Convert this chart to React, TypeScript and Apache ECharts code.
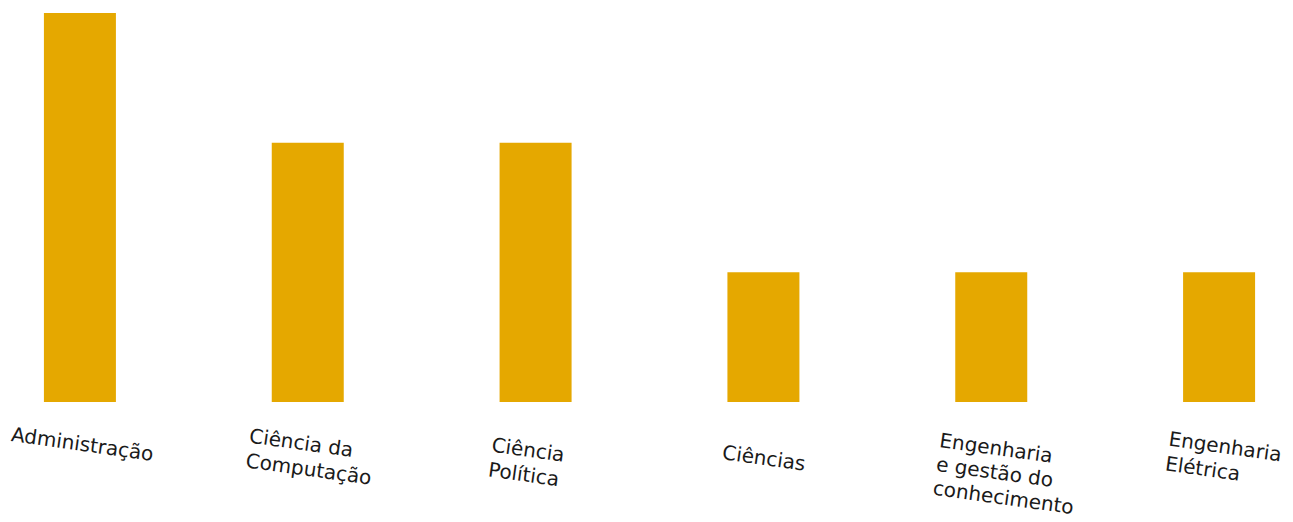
import React, { useEffect, useRef } from "react";
import * as echarts from "echarts";

const categories = [
  "Administração",
  "Ciência da\nComputação",
  "Ciência\nPolítica",
  "Ciências",
  "Engenharia\ne gestão do\nconhecimento",
  "Engenharia\nElétrica",
];
const values = [3, 2, 2, 1, 1, 1];

// per-label nudge of the label block (in the label's rotated frame): [dx, dy] px
const labelNudge: [number, number][] = [
  [5, 5],
  [7, 5],
  [-4, 12],
  [5, 19],
  [22, 9],
  [9, 7],
];
const labelLineHeight = [25, 25, 25, 25, 24, 25];

const FONT = "DejaVu Sans";
const FS = 20;

export default function App() {
  const ref = useRef<HTMLDivElement>(null);
  useEffect(() => {
    if (!ref.current) return;
    const chart = echarts.init(ref.current, null, { renderer: "svg" });
    const rich: Record<string, any> = {};
    labelNudge.forEach(([dx, dy], i) => {
      const base = { align: "left", fontFamily: FONT, fontSize: FS, lineHeight: labelLineHeight[i], color: "#1a1a1a" };
      const pl = dx > 0 ? 2 * dx : 0;
      const pr = dx < 0 ? -2 * dx : 0;
      rich[`t${i}`] = { ...base, padding: [0, pr, 0, pl] };
      rich[`s${i}`] = { align: "left", fontFamily: FONT, fontSize: 1, lineHeight: Math.max(dy, 1), color: "rgba(0,0,0,0)" };
    });
    chart.setOption({
      animation: false,
      grid: { left: 0, right: 0, top: 13, bottom: 120, containLabel: false, outerBoundsMode: "none" },
      xAxis: {
        type: "category",
        data: categories,
        axisLine: { show: false },
        axisTick: { show: false },
        axisLabel: {
          interval: 0,
          rotate: -8,
          align: "center",
          verticalAlign: "top",
          margin: 24,
          fontFamily: FONT,
          fontSize: FS,
          lineHeight: 25,
          color: "#1a1a1a",
          formatter: (v: string, idx: number) =>
            [`{s${idx}| }`]
              .concat(v.split("\n").map((l) => `{t${idx}|${l}}`))
              .join("\n"),
          rich,
        },
      },
      yAxis: { type: "value", min: 0, max: 3, show: false, splitLine: { show: false } },
      series: [
        {
          type: "bar",
          data: values,
          barWidth: 72,
          itemStyle: { color: "#e5a800" },
        },
      ],
    });
    return () => chart.dispose();
  }, []);
  return (
    <div style={{ position: "absolute", left: 0, top: 0, width: 1293, height: 522, overflow: "hidden" }}>
      <div
        ref={ref}
        style={{ position: "absolute", left: -34, top: 0, width: 1367, height: 522 }}
      />
    </div>
  );
}
